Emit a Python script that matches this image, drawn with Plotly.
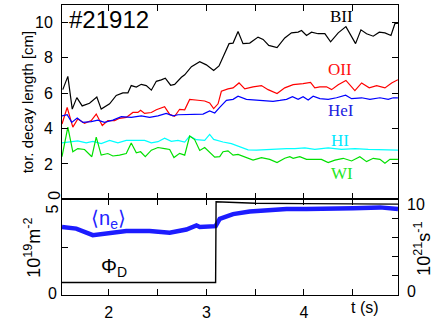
import plotly.graph_objects as go

# ---------------- data ----------------
bii_t = [1.528, 1.58, 1.625, 1.672, 1.727, 1.802, 1.877, 1.922, 2.008, 2.076, 2.144, 2.196, 2.23,
         2.282, 2.333, 2.384, 2.436, 2.487, 2.538, 2.579, 2.634, 2.675, 2.744, 2.778, 2.847, 2.932,
         3.0, 3.075, 3.13, 3.188, 3.233, 3.274, 3.325, 3.376, 3.445, 3.53, 3.582, 3.64, 3.725, 3.804,
         3.873, 3.941, 3.976, 4.027, 4.078, 4.146, 4.215, 4.274, 4.352, 4.431, 4.472, 4.53, 4.585,
         4.643, 4.711, 4.773, 4.831, 4.893, 4.934, 4.964]
bii_v = [6.2, 6.95, 5.1, 5.75, 5.28, 5.43, 5.78, 5.1, 5.4, 5.87, 6.02, 6.02, 6.43,
         6.35, 6.5, 6.43, 6.17, 6.67, 6.75, 6.85, 6.45, 6.5, 6.9, 7.04, 7.5, 7.78,
         7.6, 7.28, 7.54, 8.24, 8.8, 8.83, 9.48, 8.8, 8.83, 9.17, 9.04, 8.7, 8.58, 9.12,
         9.41, 9.45, 9.54, 9.26, 9.45, 9.36, 9.36, 8.9, 9.41, 9.76, 9.36, 8.8, 9.58,
         9.36, 9.22, 9.45, 9.41, 9.26, 9.94, 9.94]

oii_t = [1.52, 1.573, 1.631, 1.682, 1.751, 1.82, 1.871, 1.933, 1.99, 2.059, 2.11, 2.179, 2.247,
         2.298, 2.326, 2.367, 2.436, 2.487, 2.572, 2.624, 2.675, 2.726, 2.778, 2.829, 2.914, 2.983,
         3.034, 3.075, 3.12, 3.154, 3.222, 3.274, 3.335, 3.394, 3.479, 3.565, 3.633, 3.725, 3.804,
         3.89, 3.992, 4.068, 4.112, 4.164, 4.232, 4.284, 4.352, 4.431, 4.523, 4.592, 4.67, 4.746,
         4.831, 4.9, 4.964]
oii_v = [4.26, 5.19, 4.08, 4.54, 4.3, 4.45, 4.82, 4.17, 4.45, 4.45, 4.58, 4.63, 4.91,
         4.91, 5.04, 4.86, 4.91, 5.06, 5.24, 4.8, 4.69, 5.09, 5.06, 5.65, 5.6, 5.56,
         5.45, 5.13, 5.4, 6.11, 6.24, 6.3, 6.58, 6.24, 6.36, 6.43, 6.2, 5.98, 6.3,
         6.48, 6.54, 6.61, 6.3, 6.36, 6.36, 6.2, 6.48, 6.72, 6.15, 6.58, 6.3, 6.43,
         6.3, 6.58, 6.76]

hei_t = [1.52, 1.573, 1.62, 1.676, 1.734, 1.82, 1.888, 1.956, 2.042, 2.128, 2.23, 2.333, 2.418,
         2.504, 2.589, 2.658, 2.709, 2.829, 2.966, 3.034, 3.086, 3.137, 3.206, 3.274, 3.325, 3.411,
         3.53, 3.617, 3.684, 3.753, 3.822, 3.883, 3.941, 3.992, 4.044, 4.095, 4.164, 4.249, 4.335,
         4.428, 4.489, 4.592, 4.677, 4.78, 4.865, 4.916, 4.964]
hei_v = [4.72, 4.78, 4.35, 4.59, 4.35, 4.39, 4.48, 4.35, 4.48, 4.67, 4.63, 4.72, 4.63,
         4.72, 4.86, 4.72, 4.78, 4.78, 4.82, 5.0, 4.88, 5.2, 5.59, 5.65, 5.83, 5.65,
         5.6, 5.56, 5.54, 5.59, 5.65, 5.8, 5.65, 5.8, 5.61, 5.83, 5.69, 5.65, 5.74,
         5.89, 5.69, 5.74, 5.65, 5.74, 5.65, 5.74, 5.74]

hi_t = [1.52, 1.597, 1.682, 1.768, 1.836, 1.922, 2.008, 2.093, 2.179, 2.282, 2.367, 2.436, 2.504,
        2.572, 2.641, 2.709, 2.778, 2.829, 2.898, 2.983, 3.034, 3.075, 3.171, 3.257, 3.342, 3.428,
        3.514, 3.617, 3.719, 3.822, 3.907, 4.01, 4.112, 4.249, 4.387, 4.523, 4.66, 4.797, 4.964]
hi_v = [3.19, 3.24, 3.3, 3.19, 3.28, 3.15, 3.33, 3.19, 3.33, 3.33, 3.33, 3.19, 3.26,
        3.46, 3.28, 3.33, 3.24, 3.58, 3.37, 3.33, 3.67, 3.39, 3.24, 3.15, 2.96, 2.8,
        2.78, 2.82, 2.82, 2.87, 2.87, 2.91, 2.82, 2.91, 2.82, 2.87, 2.82, 2.82, 2.78]

wi_t = [1.52, 1.58, 1.631, 1.682, 1.751, 1.826, 1.871, 1.922, 1.99, 2.042, 2.11, 2.179, 2.23,
        2.282, 2.326, 2.374, 2.436, 2.504, 2.572, 2.624, 2.668, 2.726, 2.778, 2.829, 2.88, 2.932,
        2.983, 3.034, 3.086, 3.137, 3.171, 3.222, 3.274, 3.325, 3.394, 3.479, 3.565, 3.65, 3.725,
        3.804, 3.856, 3.89, 3.958, 4.027, 4.112, 4.18, 4.249, 4.318, 4.403, 4.489, 4.574, 4.643,
        4.711, 4.78, 4.831, 4.882, 4.964]
wi_v = [2.41, 4.08, 2.69, 2.87, 2.82, 2.41, 3.52, 2.5, 2.59, 2.45, 2.5, 2.59, 3.19,
        2.63, 2.69, 2.41, 2.78, 2.93, 2.87, 2.82, 2.36, 2.6, 2.5, 3.58, 3.38, 2.76,
        2.93, 2.69, 2.39, 2.41, 2.69, 2.74, 2.5, 2.54, 2.41, 2.22, 2.36, 2.26, 2.08,
        2.32, 2.41, 2.32, 2.41, 2.26, 2.26, 2.26, 2.08, 2.22, 2.32, 2.17, 2.41, 2.13,
        2.32, 2.26, 2.04, 2.26, 2.26]

# line-averaged density, 10^19 m^-2 (left axis)
ne_t = [1.52, 1.666, 1.836, 2.008, 2.179, 2.418, 2.624, 2.795, 2.898, 2.932, 3.068, 3.095,
        3.137, 3.274, 3.445, 3.617, 3.822, 4.027, 4.3, 4.506, 4.78, 4.965]
ne_v = [3.55, 3.47, 3.13, 3.25, 3.35, 3.35, 3.25, 3.42, 3.64, 3.55, 3.64, 3.6,
        3.98, 4.23, 4.36, 4.44, 4.49, 4.49, 4.49, 4.54, 4.58, 4.49]

# deuterium fuelling rate, 10^21 s^-1 (right axis)
phi_t = [1.52, 2.0, 2.5, 3.0, 3.095, 3.1, 3.2, 3.5, 4.0, 4.5, 4.965]
phi_v = [1.3, 1.32, 1.3, 1.31, 1.31, 9.75, 9.7, 9.6, 9.55, 9.55, 9.5]

species = ["BII", "OII", "HeI", "HI", "WI"]
x_ticks = [2, 2.5, 3, 3.5, 4, 4.5]
x_ticktext = ["2", "", "3", "", "4", ""]
ytop_ticks = [2, 4, 6, 8, 10]
yleft_ticks = [0, 2.5, 5]
yright_ticks = [0, 2, 4, 6, 8, 10]

# ---------------- layout geometry ----------------
W, H = 437, 325
L, R, T, B = 62, 39, 4, 26
PW, PH = W - L - R, H - T - B
split = (299 - 201.7) / PH

def px(xp):
    return (xp - L) / PW

def py(yp):
    return (H - B - yp) / PH

SANS = "Liberation Sans, Arial, sans-serif"
SERIF = "Liberation Serif, Times New Roman, serif"

fig = go.Figure()

top_colors = ["#000000", "#ff0000", "#0000ff", "#00ffff", "#00e000"]
series = [(bii_t, bii_v), (oii_t, oii_v), (hei_t, hei_v), (hi_t, hi_v), (wi_t, wi_v)]
for (t, v), c, name in zip(series, top_colors, species):
    fig.add_trace(go.Scatter(x=t, y=v, mode="lines", line=dict(color=c, width=1.2),
                             name=name, xaxis="x2", yaxis="y2", showlegend=False))

fig.add_trace(go.Scatter(x=phi_t, y=phi_v, mode="lines", line=dict(color="black", width=1.4),
                         xaxis="x", yaxis="y3", showlegend=False))
fig.add_trace(go.Scatter(x=ne_t, y=ne_v, mode="lines", line=dict(color="#1c1cff", width=4.5),
                         xaxis="x", yaxis="y", showlegend=False))

axis_common = dict(showline=True, linecolor="black", linewidth=1, ticks="inside",
                   tickcolor="black", ticklen=6, showgrid=False, zeroline=False,
                   tickfont=dict(family=SANS, size=16, color="black"))

fig.update_layout(
    width=W, height=H, margin=dict(l=L, r=R, t=T, b=B),
    paper_bgcolor="white", plot_bgcolor="white",
    xaxis=dict(axis_common, domain=[0, 1], anchor="y", range=[1.52, 4.965],
               tickvals=x_ticks, ticktext=x_ticktext, mirror="ticks", ticklabelstandoff=3),
    yaxis=dict(axis_common, domain=[0, split], anchor="x", range=[0, 5],
               tickvals=yleft_ticks, showticklabels=False, mirror=True),
    yaxis3=dict(axis_common, overlaying="y", side="right", anchor="x", range=[0, 10],
                tickvals=yright_ticks, showticklabels=False),
    xaxis2=dict(axis_common, domain=[0, 1], anchor="y2", matches="x", range=[1.52, 4.965],
                tickvals=x_ticks, showticklabels=False, mirror="ticks"),
    yaxis2=dict(axis_common, domain=[split, 1], anchor="x2", range=[0, (201.7 - T) / 18.0],
                tickvals=ytop_ticks, mirror="ticks", ticklabelstandoff=5),
)

ann = []
def add(text, xp, yp, size=15, color="black", family=SANS, angle=0, xanchor="center"):
    ann.append(dict(text=text, x=px(xp), y=py(yp), xref="paper", yref="paper",
                    xanchor=xanchor, yanchor="middle", showarrow=False, textangle=angle,
                    font=dict(family=family, size=size, color=color)))

add("#21912", 67, 19, size=24, xanchor="left")
label_pos = [(341.7, 15.3), (340, 70), (340.7, 111.7), (339.7, 141.7), (341.8, 175.7)]
label_colors = ["#000000", "#ff1010", "#2020e0", "#00e8ff", "#22e822"]
for s, (xp, yp), c in zip(species, label_pos, label_colors):
    add(s, xp, yp, size=17, color=c, family=SERIF)

add("\u27e8n<sub>e</sub>\u27e9", 108, 222, size=20, color="#2424ff")
add("\u03a6<sub>D</sub>", 114, 271, size=20)
add("t (s)", 365, 312, size=16)

# end-of-axis tick labels
add("0", 54.5, 197.5, size=16, angle=-90)
add("5", 52.5, 211.5, size=16, angle=-90)
add("0", 52, 297, size=16)
add("10", 405, 206.5, size=16, xanchor="left")
add("0", 405, 295, size=16, xanchor="left")

# axis titles
add("tor. decay length [cm]", 27, 103, size=15, angle=-90)
add("10<sup>19</sup>m<sup>-2</sup>", 33, 251, size=18, angle=-90)
add("10<sup>21</sup>s<sup>-1</sup>", 423, 252, size=18, angle=-90)

fig.update_layout(annotations=ann)
fig.write_html("out.html", config={"displayModeBar": False},
               post_script="document.body.style.margin='0';")
